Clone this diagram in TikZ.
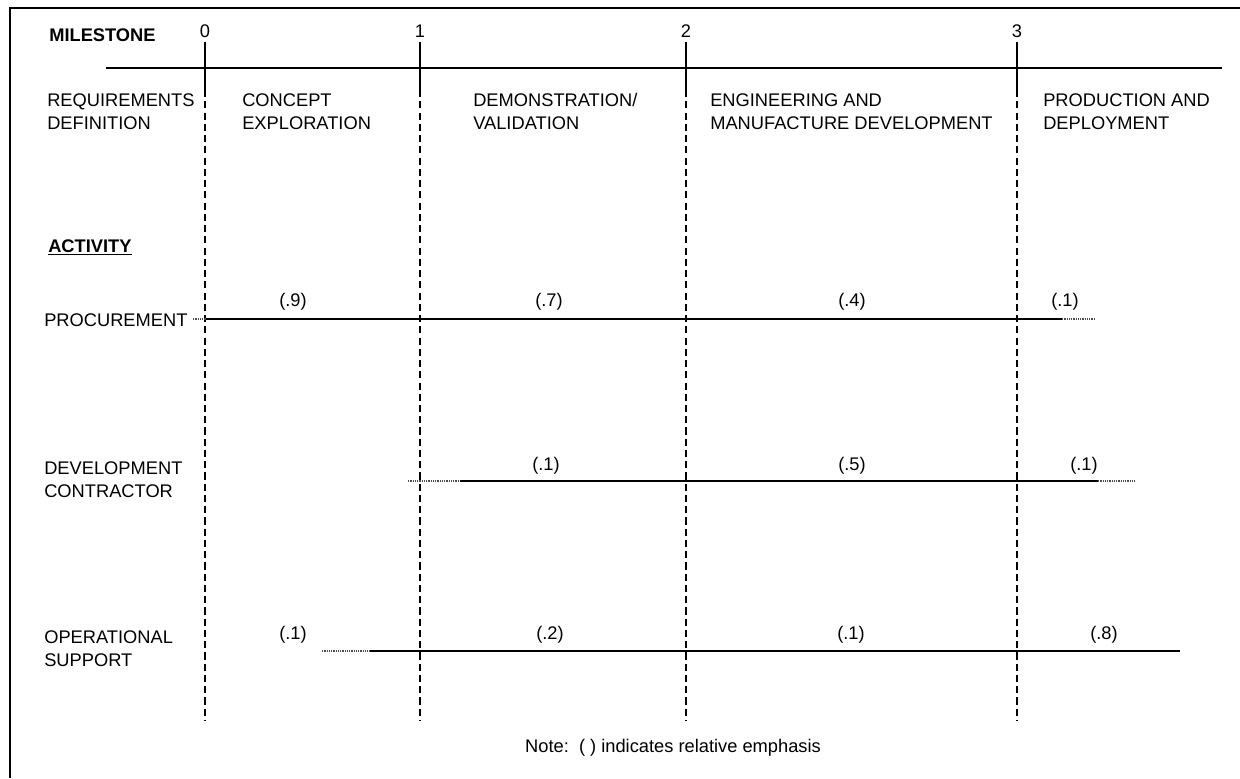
\documentclass[tikz,border=0pt]{standalone}
\usepackage{fontspec}
\setmainfont{Liberation Sans}
\usetikzlibrary{positioning}
\tikzset{
x=0.025cm, y=-0.025cm, % one unit is one pixel of the scanned chart
every node/.style={font=\fontsize{13}{16.5}\selectfont, inner sep=0pt}, % all text in one size
phase/.style={anchor=west, align=left}, % phase and activity names
weight/.style={anchor=center}, % relative emphasis values
rule/.style={line width=1.3pt}, % solid lines
gate/.style={line width=1.3pt, dash pattern=on 5pt off 3pt}, % dashed milestone lines
tail/.style={line width=1pt, black!70, dash pattern=on 1pt off 0.6pt}, % faint ends of the activity lines
}

\begin{document}
\begin{tikzpicture}
    \useasboundingbox (0,0) rectangle (1240,778);
    % frame
    \draw[line width=2pt] (1240,8) -- (10,8) -- (10,778);

    % milestones
    \node[anchor=west, font=\fontsize{13}{16.5}\selectfont\bfseries] (mile) at (49,35) {MILESTONE};
    \coordinate (axisL) at (106,68);
    \coordinate (axisR) at (1222,68);
    \draw[rule] (axisL) -- (axisR);
    \foreach \x/\n in {205/0, 420/1, 686/2, 1017/3}
    {
      \node (m\n) at (\x,31) {\n};
      \coordinate (top\n) at (\x,42);
      \coordinate (mid\n) at (\x,90);
      \coordinate (bot\n) at (\x,720);
      \draw[rule] (top\n) -- (mid\n);
      \draw[gate] (mid\n) -- (bot\n);
    }

    % phases
    \node[phase] (req) at (47,111.5) {REQUIREMENTS\\DEFINITION};
    \node[phase] (con) at (242,111.5) {CONCEPT\\EXPLORATION};
    \node[phase] (dem) at (473,111.5) {DEMONSTRATION/\\VALIDATION};
    \node[phase] (eng) at (710,111.5) {ENGINEERING AND\\MANUFACTURE DEVELOPMENT};
    \node[phase] (pro) at (1043,111.5) {PRODUCTION AND\\DEPLOYMENT};

    % activities
    \node[anchor=base west] (act) at (48,252) {\underline{\textbf{ACTIVITY}}};

    \node[phase] (proc) at (44,320) {PROCUREMENT};
    \coordinate (p0) at (193,319);
    \coordinate (p1) at (206,319);
    \coordinate (p2) at (1062,319);
    \coordinate (p3) at (1094,319);
    \draw[tail] (p0) -- (p1);
    \draw[rule] (p1) -- (p2);
    \draw[tail] (p2) -- (p3);
    \node[weight] (p9) at (293,302) {(.9)};
    \node[weight] (p7) at (549,302) {(.7)};
    \node[weight] (p4) at (852,302) {(.4)};
    \node[weight] (p1w) at (1065,302) {(.1)};

    \node[phase] (dev) at (44,480) {DEVELOPMENT\\CONTRACTOR};
    \coordinate (d0) at (408,481);
    \coordinate (d1) at (460,481);
    \coordinate (d2) at (1098,481);
    \coordinate (d3) at (1135,481);
    \draw[tail] (d0) -- (d1);
    \draw[rule] (d1) -- (d2);
    \draw[tail] (d2) -- (d3);
    \node[weight] (d1w) at (546,466) {(.1)};
    \node[weight] (d5) at (852,466) {(.5)};
    \node[weight] (d1v) at (1084,466) {(.1)};

    \node[phase] (ops) at (44,649) {OPERATIONAL\\SUPPORT};
    \coordinate (o0) at (322,651);
    \coordinate (o1) at (370,651);
    \coordinate (o2) at (1180,651);
    \draw[tail] (o0) -- (o1);
    \draw[rule] (o1) -- (o2);
    \node[weight] (o1w) at (293,635) {(.1)};
    \node[weight] (o2w) at (550,635) {(.2)};
    \node[weight] (o1v) at (851,635) {(.1)};
    \node[weight] (o8) at (1104,635) {(.8)};

    % note
    \node (note) at (673,748) {Note:\ \ ( ) indicates relative emphasis};
\end{tikzpicture}
\end{document}
